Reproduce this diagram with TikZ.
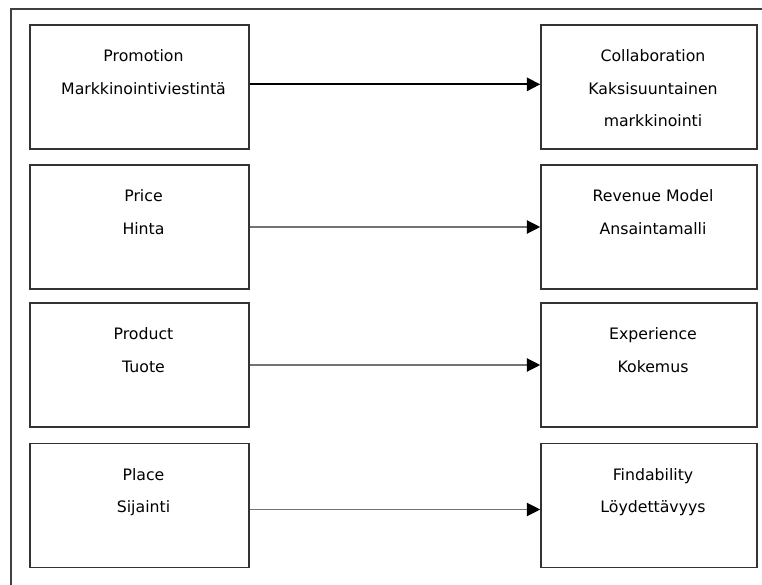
\documentclass[tikz,border=0pt]{standalone}
\usepackage{fontspec}
\setmainfont{DejaVu Sans}
\usetikzlibrary{positioning, arrows.meta}

\tikzset{
	box/.style = {draw=black!80, line width=1.2pt, minimum height=93pt, inner sep=0pt},
	lbl/.style = {font=\fontsize{11.8}{24.3}\selectfont, text=black, align=center, inner sep=0pt},
	link/.style = {draw=black!55, line width=0.9pt, -{Triangle[length=10pt, width=10pt, color=black]}},
}

\begin{document}
\begin{tikzpicture}[x=0.75pt, y=-0.75pt]
			\useasboundingbox (0,0) rectangle (762,584);
			\draw[black!75, line width=1.3pt] (11,590) -- (11,9) -- (770,9); % outer frame, cut at the page edge
			% old 4P column
			\node[box, minimum width=164pt] (promo) at (139.5,87) {};
			\node[box, minimum width=164pt] (price) at (139.5,227) {};
			\node[box, minimum width=164pt] (prod) at (139.5,365) {};
			\node[box, minimum width=164pt] (place) at (139.5,505.5) {};
			% new column
			\node[box, minimum width=162pt] (collab) at (649,87) {};
			\node[box, minimum width=162pt] (revenue) at (649,227) {};
			\node[box, minimum width=162pt] (exper) at (649,365) {};
			\node[box, minimum width=162pt] (find) at (649,505.5) {};
			% texts
			\node[lbl, below=19pt of promo.north, xshift=3pt] (promotxt) {Promotion\\Markkinointiviestintä};
			\node[lbl, below=19pt of price.north, xshift=3pt] (pricetxt) {Price\\Hinta};
			\node[lbl, below=19pt of prod.north, xshift=3pt] (prodtxt) {Product\\Tuote};
			\node[lbl, below=19pt of place.north, xshift=3pt] (placetxt) {Place\\Sijainti};
			\node[lbl, below=19pt of collab.north, xshift=3pt] (collabtxt) {Collaboration\\Kaksisuuntainen\\markkinointi};
			\node[lbl, below=19pt of revenue.north, xshift=3pt] (revenuetxt) {Revenue Model\\Ansaintamalli};
			\node[lbl, below=19pt of exper.north, xshift=3pt] (expertxt) {Experience\\Kokemus};
			\node[lbl, below=19pt of find.north, xshift=3pt] (findtxt) {Findability\\Löydettävyys};
			% arrows
			\draw[link, draw=black, line width=1.4pt] ([yshift=2pt]promo.east) -- ([yshift=2pt]collab.west);
			\draw[link] (price.east) -- (revenue.west);
			\draw[link] (prod.east) -- (exper.west);
			\draw[link] ([yshift=-3pt]place.east) -- ([yshift=-3pt]find.west);
		\end{tikzpicture}
\end{document}
